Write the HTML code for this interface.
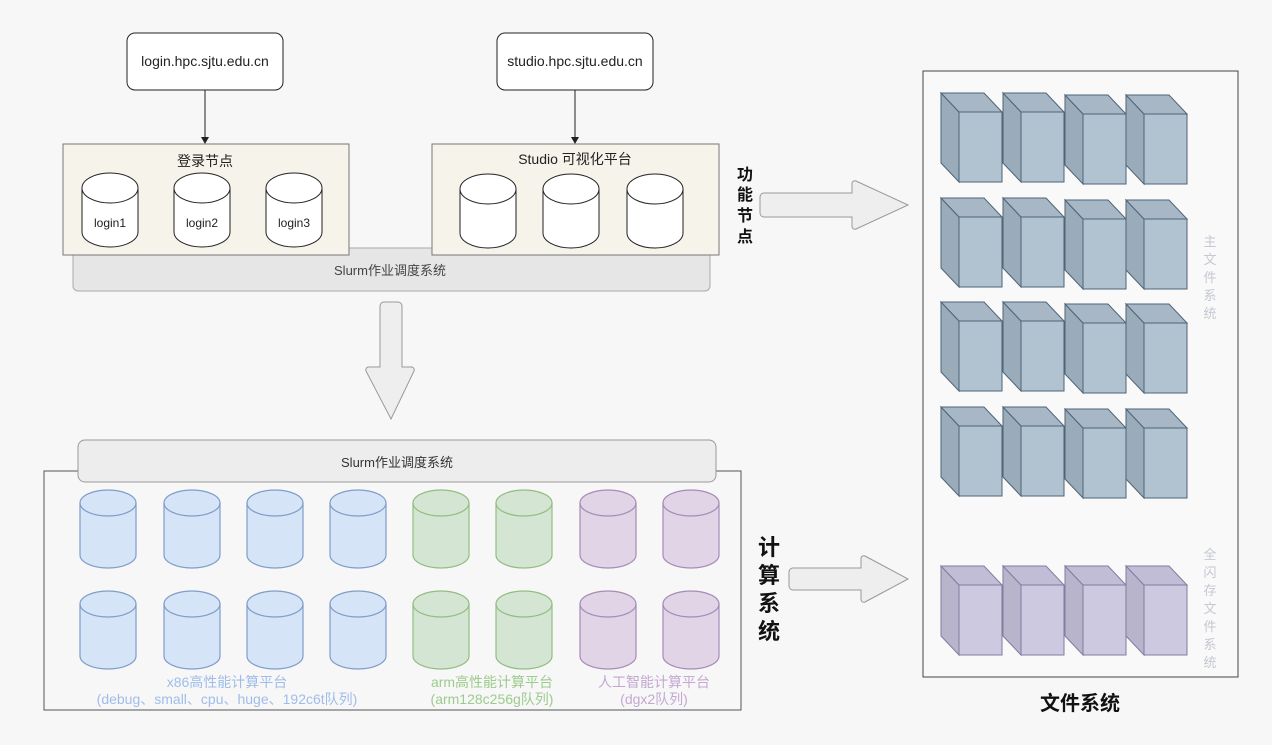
<!DOCTYPE html>
<html><head><meta charset="utf-8"><style>
html,body{margin:0;padding:0;background:#f7f7f7;}
svg{display:block;font-family:"Liberation Sans","Noto Sans CJK SC",sans-serif;}
</style></head><body>
<svg width="1272" height="745" viewBox="0 0 1272 745" xmlns="http://www.w3.org/2000/svg">
<defs>
<g id="cb">
<polygon points="0,0 18,19 18,89 0,70" fill="#9aabb9" stroke="#4f6476" stroke-width="1"/>
<polygon points="0,0 43,0 61,19 18,19" fill="#a7b7c5" stroke="#4f6476" stroke-width="1"/>
<rect x="18" y="19" width="43" height="70" fill="#b1c2d0" stroke="#4f6476" stroke-width="1"/>
</g>
<g id="cp">
<polygon points="0,0 18,19 18,89 0,70" fill="#b8b4cc" stroke="#837ca0" stroke-width="1"/>
<polygon points="0,0 43,0 61,19 18,19" fill="#c1bdd6" stroke="#837ca0" stroke-width="1"/>
<rect x="18" y="19" width="43" height="70" fill="#ccc9e0" stroke="#837ca0" stroke-width="1"/>
</g>
<g id="cyw">
<path d="M0,15 a28,15 0 0 1 56,0 v44 a28,15 0 0 1 -56,0 z" fill="#fff" stroke="#222" stroke-width="1"/>
<path d="M0,15 a28,15 0 0 0 56,0" fill="none" stroke="#222"/>
</g>
<g id="cyl">
<path d="M0,15 a28,15 0 0 1 56,0 v44 a28,15 0 0 1 -56,0 z" fill="#fff" stroke="#222" stroke-width="1"/>
<path d="M0,15 a28,15 0 0 0 56,0" fill="none" stroke="#222"/>
</g>
<g id="cb2">
<path d="M0,13 a28,13 0 0 1 56,0 v52 a28,13 0 0 1 -56,0 z" fill="#d6e4f8" stroke="#7f9dc8" stroke-width="1.2"/>
<path d="M0,13 a28,13 0 0 0 56,0" fill="none" stroke="#7f9dc8" stroke-width="1.2"/>
</g>
<g id="cg2">
<path d="M0,13 a28,13 0 0 1 56,0 v52 a28,13 0 0 1 -56,0 z" fill="#d4e6d3" stroke="#92bd80" stroke-width="1.2"/>
<path d="M0,13 a28,13 0 0 0 56,0" fill="none" stroke="#92bd80" stroke-width="1.2"/>
</g>
<g id="cp2">
<path d="M0,13 a28,13 0 0 1 56,0 v52 a28,13 0 0 1 -56,0 z" fill="#e0d4e6" stroke="#a68bb6" stroke-width="1.2"/>
<path d="M0,13 a28,13 0 0 0 56,0" fill="none" stroke="#a68bb6" stroke-width="1.2"/>
</g>
</defs>

<!-- top slurm bar -->
<rect x="73" y="248" width="637" height="43" rx="5" fill="#e6e6e6" stroke="#aaa"/>
<text x="390" y="275" font-size="13" text-anchor="middle" fill="#444">Slurm作业调度系统</text>

<!-- URL boxes -->
<rect x="127" y="33" width="156" height="57" rx="8" fill="#fff" stroke="#222"/>
<text x="205" y="66" font-size="14" text-anchor="middle" fill="#222">login.hpc.sjtu.edu.cn</text>
<rect x="497" y="33" width="156" height="57" rx="8" fill="#fff" stroke="#222"/>
<text x="575" y="66" font-size="14" text-anchor="middle" fill="#222">studio.hpc.sjtu.edu.cn</text>
<line x1="205" y1="90" x2="205" y2="138" stroke="#222"/>
<polygon points="201,137 209,137 205,144" fill="#222"/>
<line x1="575" y1="90" x2="575" y2="138" stroke="#222"/>
<polygon points="571,137 579,137 575,144" fill="#222"/>

<!-- containers -->
<rect x="63" y="144" width="286" height="111" fill="#f5f3ea" stroke="#777"/>
<text x="205" y="166" font-size="14" text-anchor="middle" fill="#222">登录节点</text>
<use href="#cyl" x="82" y="173"/><use href="#cyl" x="174" y="173"/><use href="#cyl" x="266" y="173"/>
<text x="110" y="227" font-size="12" text-anchor="middle" fill="#222">login1</text>
<text x="202" y="227" font-size="12" text-anchor="middle" fill="#222">login2</text>
<text x="294" y="227" font-size="12" text-anchor="middle" fill="#222">login3</text>
<rect x="432" y="144" width="287" height="111" fill="#f5f3ea" stroke="#777"/>
<text x="575" y="164" font-size="14" text-anchor="middle" fill="#222">Studio 可视化平台</text>
<use href="#cyw" x="460" y="174"/><use href="#cyw" x="543" y="174"/><use href="#cyw" x="627" y="174"/>

<!-- arrows -->
<path d="M384,302 h14 a4,4 0 0 1 4,4 v61 h10 a3,3 0 0 1 2,4 l-23,48 l-25,-48 a3,3 0 0 1 2,-4 h12 v-61 a4,4 0 0 1 4,-4 z" fill="#eee" stroke="#999"/>
<path d="M764,193 h88 v-10 a3,3 0 0 1 4,-2 l52,24 l-52,24 a3,3 0 0 1 -4,-2 v-10 h-88 a4,4 0 0 1 -4,-4 v-16 a4,4 0 0 1 4,-4 z" fill="#eee" stroke="#999"/>
<path d="M793,568 h68 v-10 a3,3 0 0 1 4,-2 l43,23 l-43,23 a3,3 0 0 1 -4,-2 v-10 h-68 a4,4 0 0 1 -4,-4 v-14 a4,4 0 0 1 4,-4 z" fill="#eee" stroke="#999"/>
<g font-size="16" font-weight="bold" fill="#111" text-anchor="middle">
<text x="745" y="180">功</text><text x="745" y="200">能</text><text x="745" y="221">节</text><text x="745" y="242">点</text>
</g>
<g font-size="22" font-weight="bold" fill="#111" text-anchor="middle">
<text x="769" y="555">计</text><text x="769" y="583">算</text><text x="769" y="611">系</text><text x="769" y="639">统</text>
</g>

<!-- bottom container -->
<rect x="44" y="471" width="697" height="239" fill="none" stroke="#555"/>
<rect x="78" y="440" width="638" height="42" rx="7" fill="#ededed" stroke="#999"/>
<text x="397" y="467" font-size="13" text-anchor="middle" fill="#333">Slurm作业调度系统</text>
<use href="#cb2" x="80" y="490"/><use href="#cb2" x="164" y="490"/><use href="#cb2" x="247" y="490"/><use href="#cb2" x="330" y="490"/>
<use href="#cg2" x="413" y="490"/><use href="#cg2" x="496" y="490"/>
<use href="#cp2" x="580" y="490"/><use href="#cp2" x="663" y="490"/>
<use href="#cb2" x="80" y="591"/><use href="#cb2" x="164" y="591"/><use href="#cb2" x="247" y="591"/><use href="#cb2" x="330" y="591"/>
<use href="#cg2" x="413" y="591"/><use href="#cg2" x="496" y="591"/>
<use href="#cp2" x="580" y="591"/><use href="#cp2" x="663" y="591"/>
<g font-size="14" text-anchor="middle">
<text x="227" y="687" fill="#9fbde8">x86高性能计算平台</text>
<text x="227" y="704" fill="#9fbde8">(debug、small、cpu、huge、192c6t队列)</text>
<text x="492" y="687" fill="#9ccb8c">arm高性能计算平台</text>
<text x="492" y="704" fill="#9ccb8c">(arm128c256g队列)</text>
<text x="654" y="687" fill="#c4a8d2">人工智能计算平台</text>
<text x="654" y="704" fill="#c4a8d2">(dgx2队列)</text>
</g>

<!-- file system -->
<rect x="923" y="71" width="315" height="606" fill="#f9f9f9" stroke="#444"/>
<g>
<use href="#cb" x="941" y="93"/><use href="#cb" x="1003" y="93"/><use href="#cb" x="1065" y="95"/><use href="#cb" x="1126" y="95"/>
<use href="#cb" x="941" y="198"/><use href="#cb" x="1003" y="198"/><use href="#cb" x="1065" y="200"/><use href="#cb" x="1126" y="200"/>
<use href="#cb" x="941" y="302"/><use href="#cb" x="1003" y="302"/><use href="#cb" x="1065" y="304"/><use href="#cb" x="1126" y="304"/>
<use href="#cb" x="941" y="407"/><use href="#cb" x="1003" y="407"/><use href="#cb" x="1065" y="409"/><use href="#cb" x="1126" y="409"/>
<use href="#cp" x="941" y="566"/><use href="#cp" x="1003" y="566"/><use href="#cp" x="1065" y="566"/><use href="#cp" x="1126" y="566"/>
</g>
<g font-size="13" fill="#c4c8d2" text-anchor="middle">
<text x="1210" y="246">主</text><text x="1210" y="264">文</text><text x="1210" y="282">件</text><text x="1210" y="300">系</text><text x="1210" y="318">统</text>
<text x="1210" y="559">全</text><text x="1210" y="577">闪</text><text x="1210" y="595">存</text><text x="1210" y="613">文</text><text x="1210" y="631">件</text><text x="1210" y="649">系</text><text x="1210" y="667">统</text>
</g>
<text x="1080" y="710" font-size="20" font-weight="bold" text-anchor="middle" fill="#111">文件系统</text>
</svg>
</body></html>
